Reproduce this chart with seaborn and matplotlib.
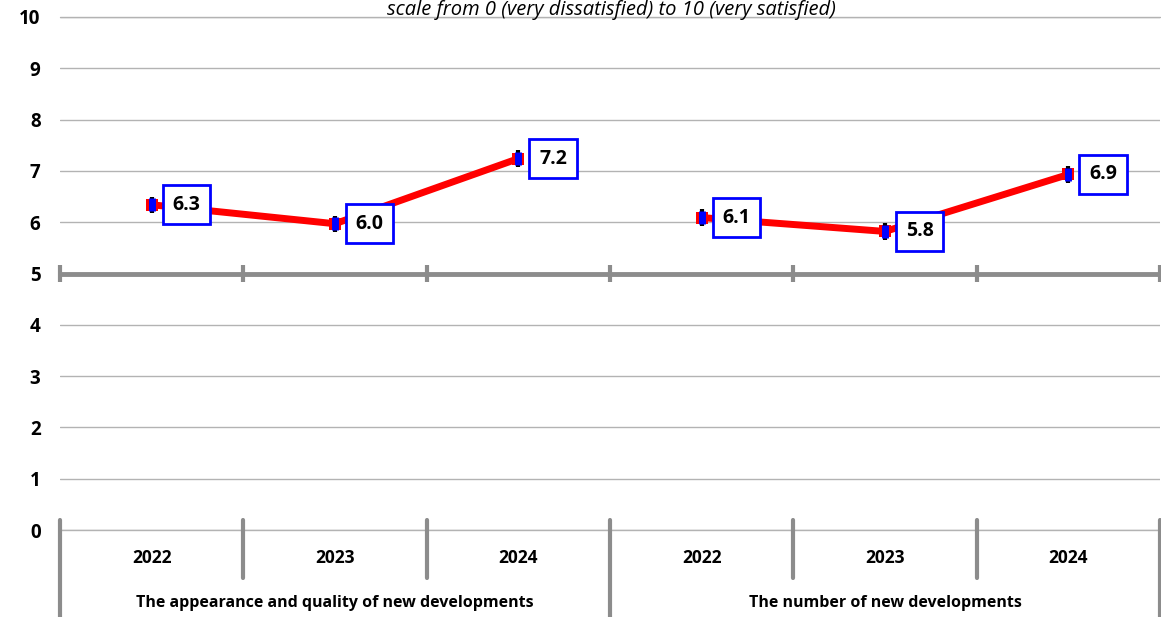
import numpy as np
import pandas as pd
import seaborn as sns
import matplotlib.pyplot as plt
import matplotlib.transforms as mtransforms

groups = ["The appearance and quality of new developments", "The number of new developments"]
years = ["2022", "2023", "2024"]
appearance = [6.34, 5.97, 7.24]
number = [6.09, 5.82, 6.93]
err = [0.13, 0.13, 0.13, 0.13, 0.13, 0.13]

if __name__ == "__main__":
    sns.set_style("white")
    plt.rcParams["font.family"] = ["Open Sans", "DejaVu Sans"]
    plt.rcParams["text.color"] = "black"
    plt.rcParams["ytick.color"] = "black"

    df = pd.DataFrame({
        "group": [groups[0]] * 3 + [groups[1]] * 3,
        "year": years * 2,
        "score": appearance + number,
    })
    df["pos"] = np.arange(len(df))

    fig = plt.figure(figsize=[11.61, 6.17], dpi=100)
    ax = fig.add_axes([60 / 1161, 87 / 617, 1100 / 1161, 513 / 617])

    ax.set_xlim(-0.5, 5.5)
    ax.set_ylim(0, 10)
    ax.set_yticks(range(0, 11))
    ax.yaxis.grid(True, color="#b3b3b3", lw=1)
    ax.set_axisbelow(True)
    for s in ax.spines.values():
        s.set_visible(False)
    ax.set_xticks([])
    ax.tick_params(axis="y", length=0, pad=14)
    for lab in ax.get_yticklabels():
        lab.set_fontweight("bold")
        lab.set_fontsize(13.5)
    for yy in (0, 10):
        ax.axhline(yy, color="#b3b3b3", lw=1, clip_on=False, zorder=1)

    # crossing axis at 5
    ax.axhline(5, color="#8c8c8c", lw=3.5, zorder=2)
    bounds = np.arange(-0.5, 6.0, 1.0)
    ax.vlines(bounds, 4.83, 5.17, color="#8c8c8c", lw=3, zorder=2, clip_on=False)

    sns.lineplot(data=df, x="pos", y="score", hue="group", palette=["red", "red"],
                 lw=5, marker="s", markersize=9, markeredgewidth=0,
                 legend=False, ax=ax, zorder=3)
    ax.errorbar(df["pos"], df["score"], yerr=np.array(err) + 0.03, fmt="none",
                ecolor="black", elinewidth=3, zorder=4)
    ax.errorbar(df["pos"], df["score"], yerr=err, fmt="none",
                ecolor="#0000ff", elinewidth=5, zorder=5)

    for x, y in zip(df["pos"], df["score"]):
        ax.annotate(f"{y:.1f}", (x, y), xytext=(25, 0), textcoords="offset points",
                    ha="center", va="center", fontsize=14, fontweight="bold",
                    bbox=dict(boxstyle="square,pad=0.5", fc="white", ec="#0000ff", lw=2),
                    zorder=6)

    ax.set_xlabel("")
    ax.set_ylabel("")

    # category axis at the bottom
    trans = mtransforms.blended_transform_factory(ax.transData, ax.transAxes)
    for i, b in enumerate(bounds):
        bottom = -0.175 if i % 3 == 0 else -0.094
        ax.plot([b, b], [0.02, bottom], color="#8c8c8c", lw=3, transform=trans, clip_on=False)
    for x, yr in zip(df["pos"], df["year"]):
        ax.text(x, -0.055, yr, transform=trans, ha="center", va="center",
                fontsize=12.5, fontweight="bold")
    for i, g in enumerate(groups):
        ax.text(3 * i + 1, -0.142, g, transform=trans, ha="center", va="center",
                fontsize=11.5, fontweight="bold")

    fig.text(611 / 1161, 1.0, "scale from 0 (very dissatisfied) to 10 (very satisfied)",
             ha="center", va="top", fontsize=14.5, style="italic")

    fig.savefig("out.png", dpi=100)
